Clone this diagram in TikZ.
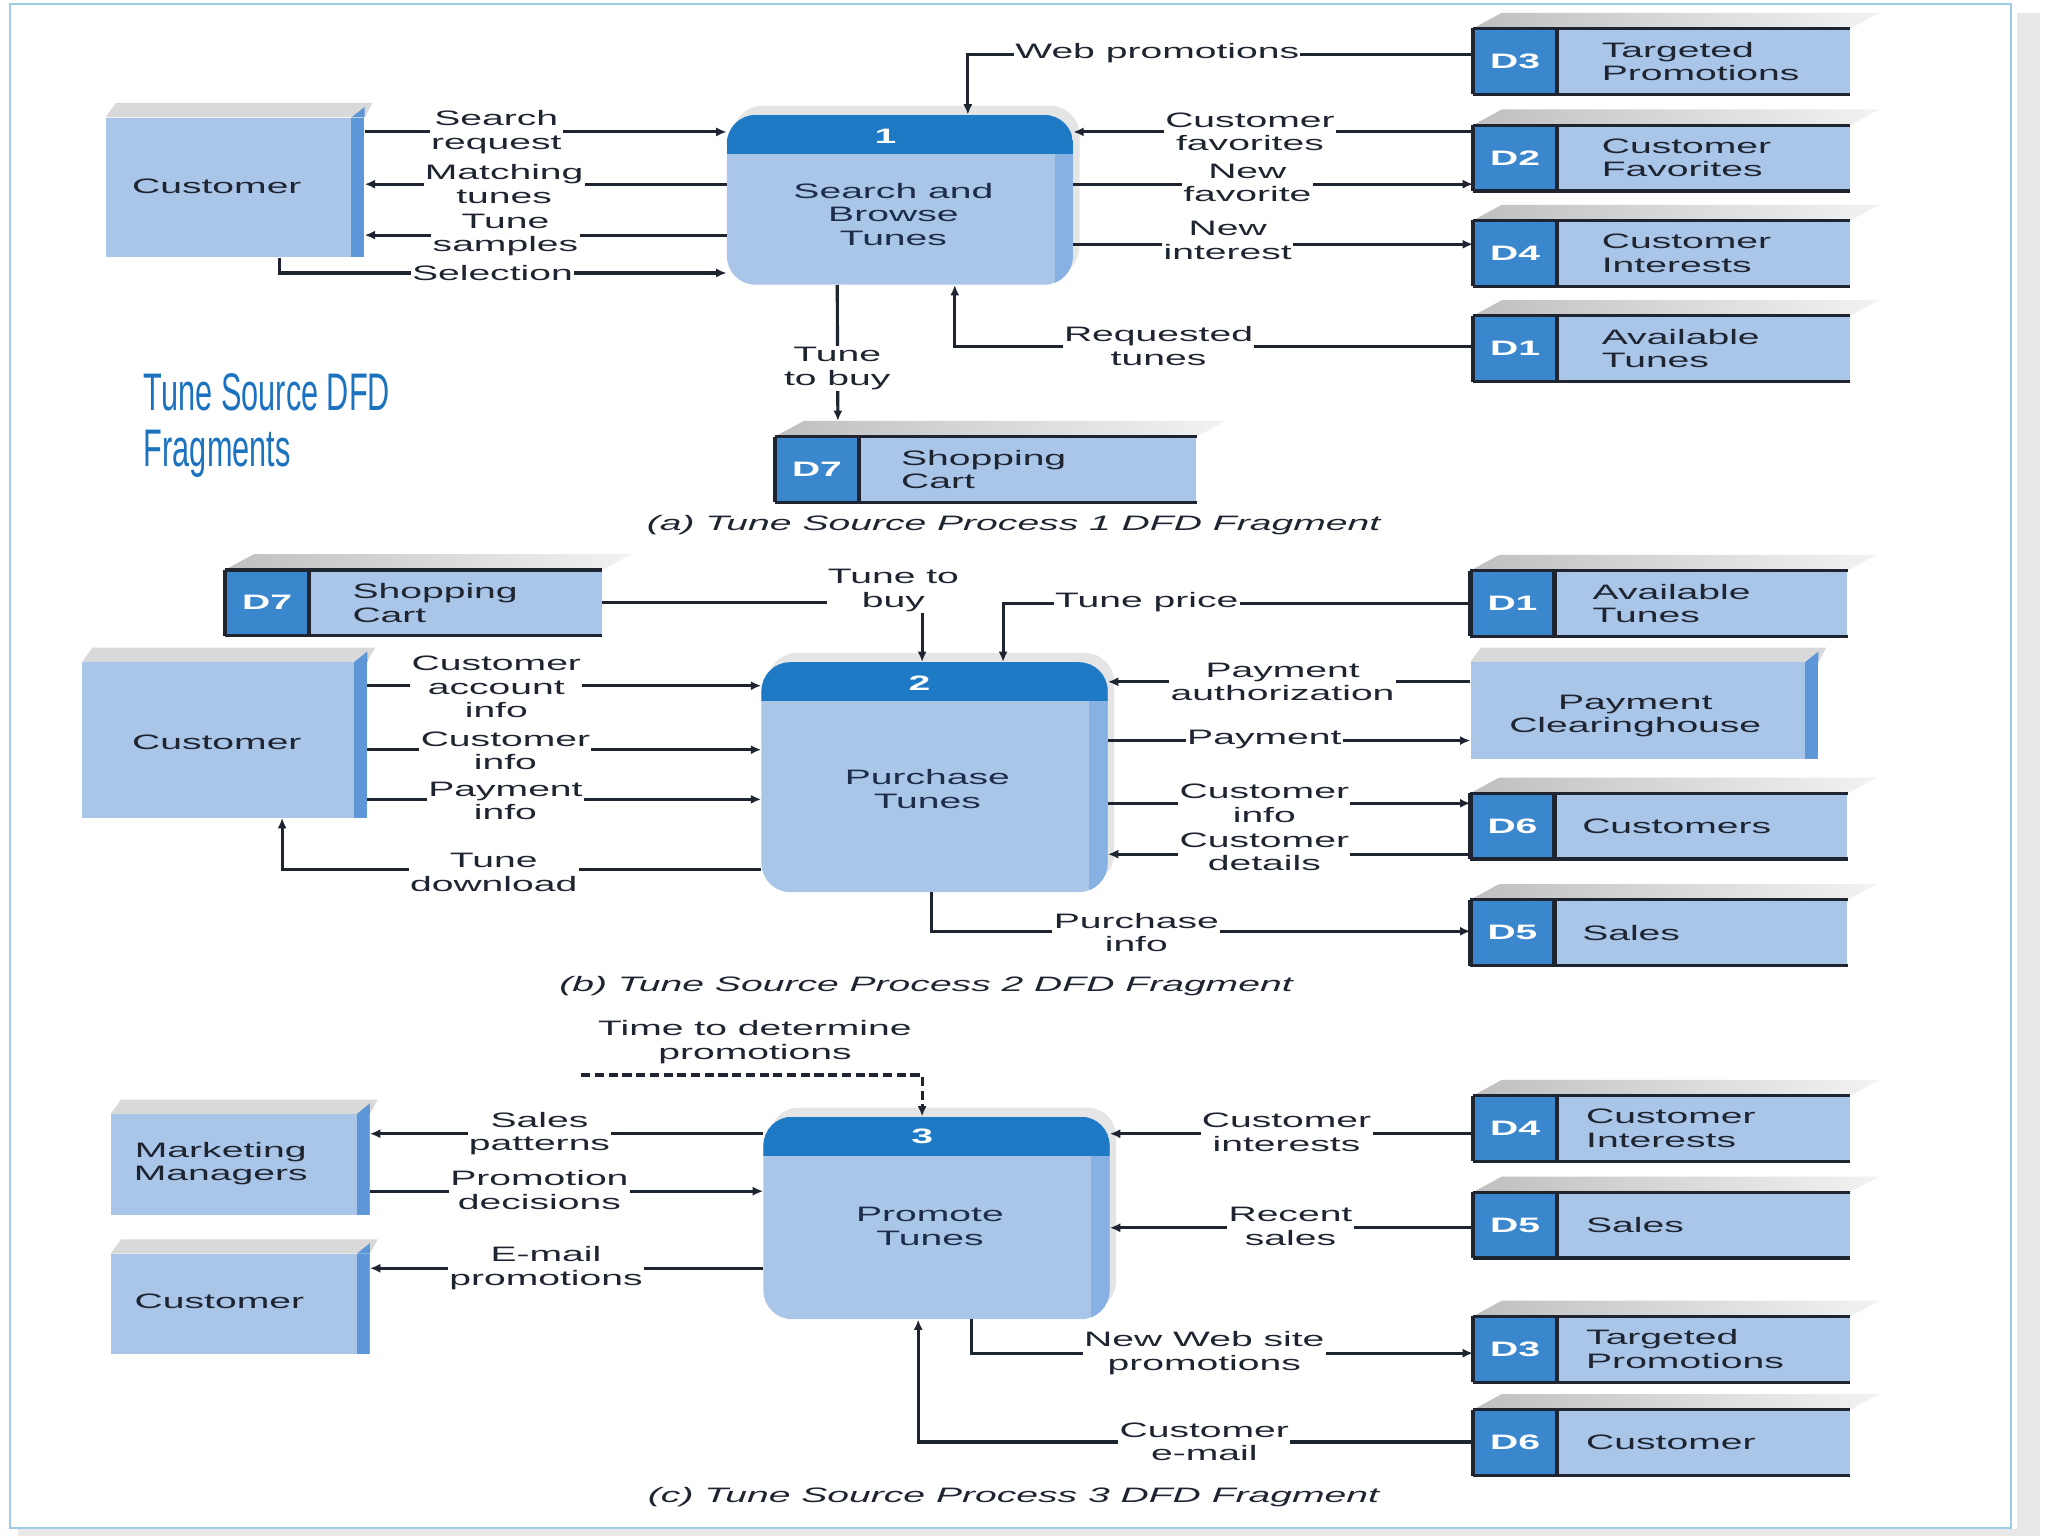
\documentclass[tikz,border=0pt]{standalone}
\usepackage{fontspec}
\setmainfont{Liberation Sans}[FakeStretch=1.87]
\newfontfamily\titlefont{Liberation Sans}[FakeStretch=0.58]
\usetikzlibrary{positioning,arrows.meta,shadows,calc}
\definecolor{boxblue}{HTML}{A9C5E8}
\definecolor{bandblue}{HTML}{1F7AC6}
\definecolor{sideblue}{HTML}{5D97D8}
\definecolor{procside}{HTML}{86B1E2}
\definecolor{idblue}{HTML}{3B87CD}
\definecolor{framecol}{HTML}{9DCDE6}
\definecolor{titleblue}{HTML}{1B72BF}
\definecolor{inkcol}{HTML}{1E2430}
\definecolor{navy}{HTML}{1D2C4A}

\begin{document}
\begin{tikzpicture}[x=1pt,y=-1pt,
  font=\fontsize{16}{18}\selectfont, text=inkcol,
  entity/.style={fill=boxblue, inner sep=0pt,
    path picture={\fill[sideblue, sharp corners] ([xshift=-10pt]path picture bounding box.north east) rectangle (path picture bounding box.south east);}},
  etext/.style={align=center, inner sep=0pt},
  proc/.style={fill=boxblue, rounded corners=22pt, minimum width=265pt, inner sep=0pt,
    drop shadow={shadow xshift=5pt, shadow yshift=7pt, fill=gray!40, opacity=.5},
    path picture={\fill[procside, sharp corners] ([xshift=-14pt]path picture bounding box.north east) rectangle (path picture bounding box.south east);
      \fill[bandblue, sharp corners] (path picture bounding box.north west) rectangle ([yshift=-30pt]path picture bounding box.north east);}},
  pnum/.style={text=white, font=\fontsize{16}{18}\selectfont\bfseries},
  ptext/.style={align=center, text=navy},
  sid/.style={fill=idblue, text=white, font=\fontsize{16}{18}\selectfont\bfseries,
    minimum width=64pt, minimum height=50pt, inner sep=0pt},
  stab/.style={fill=boxblue, minimum width=224pt, minimum height=50pt, inner sep=0pt},
  stxt/.style={align=left, inner sep=0pt},
  lab/.style={fill=white, align=center, inner sep=1pt},
  flow/.style={draw=inkcol, line width=2.4pt, -{Latex[length=8pt,width=7pt]}},
  fragcap/.style={font=\fontsize{16}{18}\selectfont\itshape},
  heading/.style={text=titleblue, align=left, inner sep=0pt, font=\titlefont\fontsize{40.5}{43}\selectfont}]
\useasboundingbox (0,0) rectangle (1568,1176);
\fill[gray!18] (1544,10) rectangle (1562,1176);
\fill[gray!18] (14,1171) rectangle (1562,1176);
\draw[framecol, line width=1.5pt, fill=white] (8,3) rectangle (1540,1170);

\node[heading, anchor=north west] (ttl) at (110,286) {Tune Source DFD\\Fragments};

% (a) process 1
\node[entity, minimum width=198pt, minimum height=107pt] (cust1) at (180,143.5) {};
\node[etext] (ec1) at (166,143) {Customer};
\node[proc, minimum height=130pt] (p1) at (689,153) {};
\node[pnum] (n1) at (678,104) {1};
\node[ptext] (t1) at (684,164) {Search and\\Browse\\Tunes};
\node[sid] (d3a) at (1160,47) {D3};
\node[stab, right=0pt of d3a] (td3a) {};
\node[stxt, right=34pt of d3a] (xd3a) {Targeted\\Promotions};
\node[sid] (d2a) at (1160,121) {D2};
\node[stab, right=0pt of d2a] (td2a) {};
\node[stxt, right=34pt of d2a] (xd2a) {Customer\\Favorites};
\node[sid] (d4a) at (1160,194) {D4};
\node[stab, right=0pt of d4a] (td4a) {};
\node[stxt, right=34pt of d4a] (xd4a) {Customer\\Interests};
\node[sid] (d1a) at (1160,267) {D1};
\node[stab, right=0pt of d1a] (td1a) {};
\node[stxt, right=34pt of d1a] (xd1a) {Available\\Tunes};
\node[sid] (d7a) at (625.5,359.5) {D7};
\node[stab, minimum width=258pt, right=0pt of d7a] (td7a) {};
\node[stxt, right=32pt of d7a] (xd7a) {Shopping\\Cart};
\node[fragcap] (capa) at (776,402) {(a) Tune Source Process 1 DFD Fragment};

% (b) process 2
\node[sid] (d7b) at (204.5,461.5) {D7};
\node[stab, right=0pt of d7b] (td7b) {};
\node[stxt, right=33pt of d7b] (xd7b) {Shopping\\Cart};
\node[entity, minimum width=218pt, minimum height=119pt] (cust2) at (172,566.5) {};
\node[etext] (ec2) at (166,568) {Customer};
\node[proc, minimum height=176pt] (p2) at (715.5,595) {};
\node[pnum] (n2) at (704,523) {2};
\node[ptext] (t2) at (710,604) {Purchase\\Tunes};
\node[sid] (d1b) at (1158,462) {D1};
\node[stab, right=0pt of d1b] (td1b) {};
\node[stxt, right=29pt of d1b] (xd1b) {Available\\Tunes};
\node[entity, minimum width=266pt, minimum height=74pt] (pch) at (1259,544) {};
\node[etext] (epc) at (1252,548) {Payment\\Clearinghouse};
\node[sid] (d6b) at (1158,632.5) {D6};
\node[stab, right=0pt of d6b] (td6b) {};
\node[stxt, right=21pt of d6b] (xd6b) {Customers};
\node[sid] (d5b) at (1158,714) {D5};
\node[stab, right=0pt of d5b] (td5b) {};
\node[stxt, right=21pt of d5b] (xd5b) {Sales};
\node[fragcap] (capb) at (709,755) {(b) Tune Source Process 2 DFD Fragment};

% (c) process 3
\node[entity, minimum width=198pt, minimum height=77pt] (mkt) at (184,891.5) {};
\node[etext] (emk) at (169,891) {Marketing\\Managers};
\node[entity, minimum width=198pt, minimum height=77pt] (cust3) at (184,998.5) {};
\node[etext] (ec3) at (168,996) {Customer};
\node[proc, minimum height=155pt] (p3) at (717,932.5) {};
\node[pnum] (n3) at (706,870) {3};
\node[ptext] (t3) at (712,939) {Promote\\Tunes};
\node[sid] (d4c) at (1160,864) {D4};
\node[stab, right=0pt of d4c] (td4c) {};
\node[stxt, right=22pt of d4c] (xd4c) {Customer\\Interests};
\node[sid] (d5c) at (1160,938) {D5};
\node[stab, right=0pt of d5c] (td5c) {};
\node[stxt, right=22pt of d5c] (xd5c) {Sales};
\node[sid] (d3c) at (1160,1033) {D3};
\node[stab, right=0pt of d3c] (td3c) {};
\node[stxt, right=22pt of d3c] (xd3c) {Targeted\\Promotions};
\node[sid] (d6c) at (1160,1104.5) {D6};
\node[stab, right=0pt of d6c] (td6c) {};
\node[stxt, right=22pt of d6c] (xd6c) {Customer};
\node[fragcap] (capc) at (776,1146) {(c) Tune Source Process 3 DFD Fragment};

\foreach \e in {cust1,cust2,pch,mkt,cust3}{
  \fill[gray!30] (\e.north west) -- ++(8,-11) -- ($(\e.north east)+(6,-11)$) -- (\e.north east) -- cycle;
  \fill[sideblue] ([xshift=-10pt]\e.north east) -- ++(10,-8) -- (\e.north east) -- cycle;
}
\foreach \s in {d3a,d2a,d4a,d1a,d7a,d7b,d1b,d6b,d5b,d4c,d5c,d3c,d6c}{
  \shade[left color=gray!50, right color=gray!10] (\s.north west) -- ++(22,-12) -- ($(t\s.north east)+(22,-12)$) -- (t\s.north east) -- cycle;
  \draw[line width=2.5pt, inkcol] (\s.north west) -- (t\s.north east) (\s.south west) -- (t\s.south east);
  \draw[line width=3.5pt, inkcol] (\s.north west) -- (\s.south west) (\s.north east) -- (\s.south east);
}

% flows (a)
\draw[flow] (d3a.west |- 0,42) -| ([xshift=52pt]p1.north) node[lab] at (886,41) {Web promotions};
\draw[flow] (d2a.west |- 0,101) -- (p1.east |- 0,101) node[lab] at (957,101) {Customer\\favorites};
\draw[flow] (p1.east |- 0,141) -- (d2a.west |- 0,141) node[lab] at (955,140) {New\\favorite};
\draw[flow] (p1.east |- 0,187) -- (d4a.west |- 0,187) node[lab] at (940,184) {New\\interest};
\draw[flow] (d1a.west |- 0,265) -| ([xshift=42pt]p1.south) node[lab] at (887,265) {Requested\\tunes};
\draw[flow] ([xshift=-48pt]p1.south) -- ([xshift=16pt,yshift=12pt]d7a.north) node[lab] at (641,282) {Tune\\to buy};
\draw[flow] (cust1.east |- 0,101) -- (p1.west |- 0,101) node[lab] at (380,101) {Search\\request};
\draw[flow] (p1.west |- 0,141) -- (cust1.east |- 0,141) node[lab] at (386,141) {Matching\\tunes};
\draw[flow] (p1.west |- 0,180) -- (cust1.east |- 0,180) node[lab] at (387,180) {Tune\\samples};
\draw[flow] ([xshift=34pt]cust1.south) |- (p1.west |- 0,209) node[lab] at (377,209) {Selection};

% flows (b)
\draw[flow] (td7b.east) -| ([xshift=-9.5pt]p2.north) node[lab] at (684,452) {Tune to\\buy};
\draw[flow] (d1b.west |- 0,462) -| ([xshift=52.5pt]p2.north) node[lab] at (878,461) {Tune price};
\draw[flow] (pch.west |- 0,522) -- (p2.east |- 0,522) node[lab] at (982,522) {Payment\\authorization};
\draw[flow] (p2.east |- 0,567) -- (pch.west |- 0,567) node[lab] at (968,566) {Payment};
\draw[flow] (p2.east |- 0,615) -- (d6b.west |- 0,615) node[lab] at (968,615) {Customer\\info};
\draw[flow] (d6b.west |- 0,654) -- (p2.east |- 0,654) node[lab] at (968,652) {Customer\\details};
\draw[flow] ([xshift=-2.5pt]p2.south) |- (d5b.west |- 0,713) node[lab] at (870,714) {Purchase\\info};
\draw[flow] (cust2.east |- 0,525) -- (p2.west |- 0,525) node[lab] at (380,526) {Customer\\account\\info};
\draw[flow] (cust2.east |- 0,574) -- (p2.west |- 0,574) node[lab] at (387,575) {Customer\\info};
\draw[flow] (cust2.east |- 0,612) -- (p2.west |- 0,612) node[lab] at (387,613) {Payment\\info};
\draw[flow] (p2.west |- 0,666) -| ([xshift=44pt]cust2.south) node[lab] at (378,668) {Tune\\download};

% flows (c)
\coordinate (tdp) at (445,823);
\draw[flow, dash pattern=on 7pt off 3.5pt] (tdp) -| ([xshift=-11pt]p3.north);
\node[lab] (ltd) at (578,798) {Time to determine\\promotions};
\draw[flow] (p3.west |- 0,868) -- (mkt.east |- 0,868) node[lab] at (413,868) {Sales\\patterns};
\draw[flow] (mkt.east |- 0,912) -- (p3.west |- 0,912) node[lab] at (413,911) {Promotion\\decisions};
\draw[flow] (p3.west |- 0,971) -- (cust3.east |- 0,971) node[lab] at (418,971) {E-mail\\promotions};
\draw[flow] (d4c.west |- 0,868) -- (p3.east |- 0,868) node[lab] at (985,867) {Customer\\interests};
\draw[flow] (d5c.west |- 0,940) -- (p3.east |- 0,940) node[lab] at (988,939) {Recent\\sales};
\draw[flow] ([xshift=27pt]p3.south) |- (d3c.west |- 0,1036) node[lab] at (922,1036) {New Web site\\promotions};
\draw[flow] (d6c.west |- 0,1104) -| ([xshift=-14pt]p3.south) node[lab] at (922,1104) {Customer\\e-mail};
\end{tikzpicture}
\end{document}
